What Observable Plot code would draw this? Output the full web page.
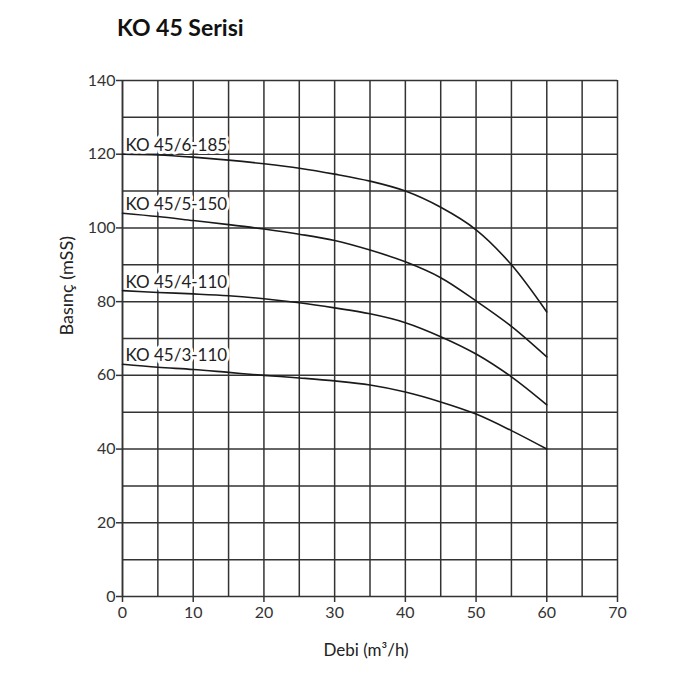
<!DOCTYPE html>
<html>
<head>
<meta charset="utf-8">
<script src="https://cdn.jsdelivr.net/npm/d3@7"></script>
<script src="https://cdn.jsdelivr.net/npm/@observablehq/plot@0.6"></script>
<style>
  body { margin: 0; background: #fff; font-family: Lato, "Noto Sans", sans-serif; }
  #title { height: 56px; box-sizing: border-box; padding: 13px 0 0 117px; font-size: 23px; font-weight: 700; color: #111; }
</style>
</head>
<body>
<div id="title">KO 45 Serisi</div>
<div id="chart"></div>
<script>
const flow = [0, 5, 10, 15, 20, 25, 30, 35, 40, 45, 50, 55, 60];
const ko6_185 = [120, 119.8, 119.2, 118.4, 117.4, 116.2, 114.6, 112.7, 110, 105.6, 99.5, 90, 77.2];
const ko5_150 = [104, 103.1, 102, 100.9, 99.7, 98.3, 96.6, 94, 90.8, 86.5, 80.2, 73.3, 65];
const ko4_110 = [83, 82.5, 82.1, 81.6, 80.8, 79.7, 78.3, 76.7, 74.3, 70.5, 65.8, 59.6, 52];
const ko3_110 = [63, 62.2, 61.6, 60.8, 60, 59.3, 58.5, 57.4, 55.5, 52.8, 49.5, 45, 40];
const seriesNames = ["KO 45/6-185", "KO 45/5-150", "KO 45/4-110", "KO 45/3-110"];
const seriesValues = [ko6_185, ko5_150, ko4_110, ko3_110];
const xTicks = [0, 10, 20, 30, 40, 50, 60, 70];
const yTicks = [0, 20, 40, 60, 80, 100, 120, 140];
const xGrid = d3.range(0, 71, 5);
const yGrid = d3.range(0, 141, 10);

const rows = seriesNames.flatMap((name, i) => flow.map((q, j) => ({name, q, h: seriesValues[i][j]})));
const labels = seriesNames.map((name, i) => ({name, q: 0, h: seriesValues[i][0]}));

const chart = Plot.plot({
  width: 700,
  height: 644,
  marginTop: 24,
  marginBottom: 104,
  marginLeft: 122,
  marginRight: 83,
  style: {fontFamily: "Lato, 'Noto Sans', sans-serif", fontSize: "16px", color: "#333", background: "#fff"},
  x: {domain: [0, 70], label: null},
  y: {domain: [0, 140], label: null},
  marks: [
    Plot.ruleX(xGrid, {stroke: "#333", strokeWidth: 1.5}),
    Plot.ruleY(yGrid, {stroke: "#333", strokeWidth: 1.5}),
    Plot.axisX({ticks: xTicks, tickSize: 6, tickPadding: 4, fontSize: 16, stroke: "#333", strokeWidth: 1.5, fill: "#333", label: null}),
    Plot.axisY({ticks: yTicks, tickSize: 6, tickPadding: 1, fontSize: 16, stroke: "#333", strokeWidth: 1.5, fill: "#333", label: null}),
    Plot.text(labels, {x: "q", y: "h", text: "name", textAnchor: "start", lineAnchor: "bottom", dx: 3, dy: -3, fontSize: 17, fill: "#222", stroke: "white", strokeWidth: 6, style: "letter-spacing:0.3px"}),
    Plot.ruleX([0], {stroke: "#333", strokeWidth: 1.5}),
    Plot.line(rows, {x: "q", y: "h", z: "name", curve: "catmull-rom", stroke: "#1a1a1a", strokeWidth: 1.6}),
    Plot.text(["Debi (m³/h)"], {frameAnchor: "bottom", dx: -4, dy: 59, fontSize: 17, fill: "#222"}),
    Plot.text(["Basınç (mSS)"], {frameAnchor: "left", dx: -55, dy: -3, rotate: -90, fontSize: 18, fill: "#222"})
  ]
});
document.getElementById("chart").appendChild(chart);
</script>
</body>
</html>
